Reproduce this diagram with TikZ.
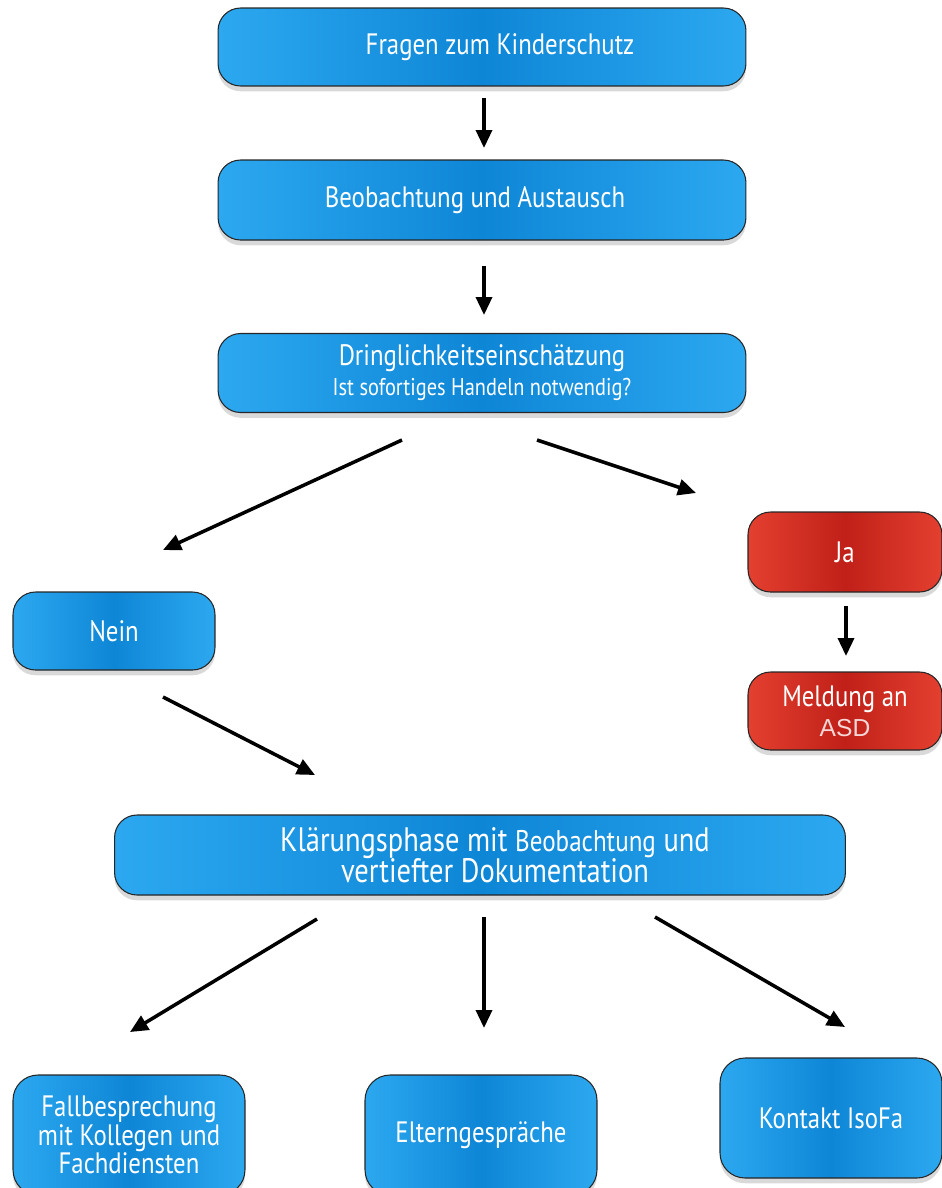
\documentclass[tikz,border=0pt]{standalone}
\usepackage{fontspec}
\setmainfont{PT Sans}[FakeStretch=0.84]
\newfontfamily\asdfont{Liberation Sans}
\usetikzlibrary{arrows.meta,shadows}
\definecolor{blauhell}{RGB}{44,168,240}
\definecolor{blaudunkel}{RGB}{14,134,214}
\definecolor{rothell}{RGB}{228,64,48}
\definecolor{rotdunkel}{RGB}{192,32,24}
\definecolor{asdweiss}{RGB}{245,215,215}

\begin{document}
\begin{tikzpicture}[x=0.02cm,y=-0.02cm,
  kasten/.style={rectangle,rounded corners=0.45cm,draw=black!85,line width=0.6pt,
    left color=blauhell,right color=blauhell,middle color=blaudunkel,
    drop shadow={shadow xshift=0pt,shadow yshift=-3pt,opacity=0.3},
    text=white,align=center,font=\fontsize{16.8}{17}\selectfont,inner sep=2pt},
  rotkasten/.style={kasten,left color=rothell,right color=rothell,middle color=rotdunkel},
  pfeil/.style={-{Triangle[length=0.36cm,width=0.32cm]},line width=2pt}]
  \useasboundingbox (0,0) rectangle (942,1188);

  % Kästen oben
  \node[kasten,minimum width=10.56cm,minimum height=1.56cm] (fragen) at (482,47) {\hspace*{0.72cm}Fragen zum Kinderschutz};
  \node[kasten,minimum width=10.56cm,minimum height=1.6cm] (beob) at (482,200) {Beobachtung und Austausch\hspace*{0.28cm}};
  \node[kasten,minimum width=10.56cm,minimum height=1.58cm] (dring) at (482,373)
    {Dringlichkeitseinschätzung\\{\fontsize{13.8}{15}\selectfont Ist sofortiges Handeln notwendig?}};

  % Nein / Ja
  \node[kasten,minimum width=4.04cm,minimum height=1.56cm] (nein) at (114,631) {Nein};
  \node[rotkasten,minimum width=3.88cm,minimum height=1.6cm] (ja) at (845,552) {Ja};
  \node[rotkasten,minimum width=3.88cm,minimum height=1.56cm] (meldung) at (845,711)
    {Meldung an\\{\asdfont\fontsize{14}{15}\selectfont\color{asdweiss}ASD}};

  % Klärungsphase
  \node[kasten,minimum width=14.62cm,minimum height=1.6cm,font=\fontsize{19.3}{16}\selectfont] (klaerung) at (480,855)
    {\hspace*{0.6cm}Klärungsphase mit {\fontsize{17}{16}\selectfont Beobachtung} und\\[-1pt]\hspace*{0.6cm}vertiefter Dokumentation};

  % Kästen unten
  \node[kasten,rounded corners=0.5cm,minimum width=4.64cm,minimum height=2.4cm,font=\fontsize{16.8}{16.4}\selectfont] (fall) at (129,1135)
    {Fallbesprechung\\mit Kollegen und\\Fachdiensten};
  \node[kasten,rounded corners=0.5cm,minimum width=4.64cm,minimum height=2.4cm] (eltern) at (481,1135) {Elterngespräche};
  \node[kasten,rounded corners=0.5cm,minimum width=4.44cm,minimum height=2.4cm] (kontakt) at (831,1118) {Kontakt IsoFa};

  % Pfeile
  \coordinate (a1) at (484,98);   \coordinate (b1) at (484,148);
  \coordinate (a2) at (484,266);  \coordinate (b2) at (484,315);
  \coordinate (a3) at (402,440);  \coordinate (b3) at (163,550);
  \coordinate (a4) at (537,440);  \coordinate (b4) at (696,493);
  \coordinate (a5) at (846,606);  \coordinate (b5) at (846,656);
  \coordinate (a6) at (163,697);  \coordinate (b6) at (315,775);
  \coordinate (a7) at (317,919);  \coordinate (b7) at (130,1032);
  \coordinate (a8) at (484,917);  \coordinate (b8) at (484,1028);
  \coordinate (a9) at (655,917);  \coordinate (b9) at (845,1027);
  \foreach \from/\to in {a1/b1, a2/b2, a3/b3, a4/b4, a5/b5, a6/b6, a7/b7, a8/b8, a9/b9}
    \draw[pfeil] (\from) -- (\to);
\end{tikzpicture}
\end{document}
